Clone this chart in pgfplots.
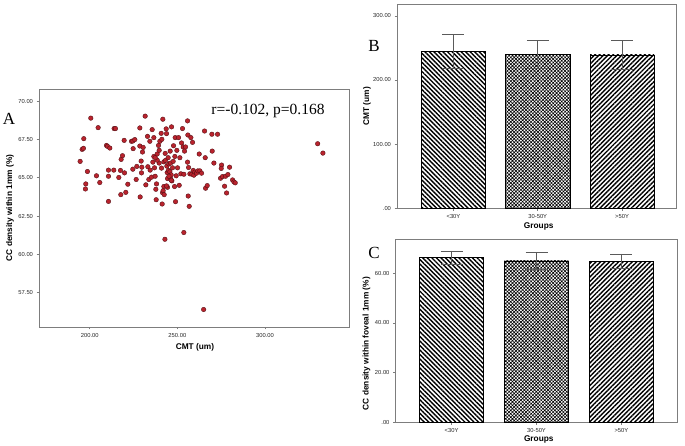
\documentclass[border=0pt]{standalone}
\usepackage{fontspec}
\setmainfont{Liberation Sans}
\newfontfamily\tnr{Liberation Serif}
\usepackage{pgfplots}
\pgfplotsset{compat=1.18}
\usetikzlibrary{patterns.meta}
\definecolor{scatred}{RGB}{185,35,45}
\definecolor{scatedge}{RGB}{80,15,20}
\definecolor{framegray}{RGB}{125,125,125}
\definecolor{errgray}{RGB}{90,90,90}

\pgfplotstableread{
x y
194.48 66.07
196.57 67.55
195.62 66.85
196.38 66.92
198.67 65.41
197.71 64.60
197.52 64.27
200.57 68.89
203.81 65.13
204.76 68.27
205.71 64.69
209.52 67.11
210.10 67.05
211.43 66.94
210.67 65.50
210.67 65.10
210.67 63.46
213.90 68.21
214.67 68.21
213.71 65.50
216.57 65.02
217.52 65.48
217.90 66.20
218.67 66.44
219.62 67.44
219.81 65.32
220.57 64.05
217.71 63.90
221.71 64.58
223.81 67.38
224.57 67.40
225.71 67.49
224.76 66.90
224.57 65.56
226.48 64.89
226.86 65.74
228.57 68.25
228.57 67.07
228.76 63.75
229.52 65.32
230.10 66.68
229.33 66.09
229.71 65.69
230.48 66.98
231.62 69.02
232.95 67.70
232.00 64.54
233.14 65.72
233.71 64.89
234.29 67.38
234.48 65.50
235.24 65.04
235.62 68.14
236.57 67.62
236.57 66.39
236.00 66.02
236.95 65.65
237.33 65.10
237.90 63.57
238.10 64.60
237.71 64.25
238.48 66.55
239.62 65.96
239.62 66.79
240.00 67.38
239.24 67.11
238.48 66.15
237.33 66.31
241.71 68.82
240.76 67.90
241.14 67.51
241.52 64.03
241.33 63.29
240.95 65.63
241.90 64.16
242.48 63.90
242.29 66.04
243.05 66.59
243.24 66.13
243.62 68.19
243.81 67.88
244.00 65.76
244.19 65.34
244.38 64.95
244.38 64.38
244.76 66.31
244.95 65.48
245.14 65.91
245.71 65.39
245.90 66.74
246.10 65.96
246.29 64.91
246.48 65.19
246.67 68.32
246.86 64.80
247.24 65.65
247.62 66.07
247.81 67.09
248.38 64.43
248.57 66.39
248.76 67.62
248.95 63.44
249.33 65.13
249.71 66.79
250.10 65.65
250.67 67.62
251.05 64.51
251.43 66.31
242.29 64.43
243.81 64.47
246.48 64.84
245.20 65.10
252.00 65.26
252.38 67.27
252.95 68.21
253.33 67.01
253.71 65.23
254.10 66.74
254.67 67.01
255.81 68.71
255.81 66.02
256.00 67.79
256.19 63.81
256.38 65.67
256.76 63.14
257.14 65.26
257.71 67.62
258.29 65.23
258.67 67.31
259.05 65.48
259.43 65.17
260.00 65.37
260.95 65.30
261.71 65.45
262.48 66.55
262.86 65.45
263.81 65.30
265.52 68.05
265.90 66.31
266.10 64.32
267.05 64.49
269.90 66.74
269.71 67.84
272.95 67.84
270.86 65.96
274.67 64.97
275.24 65.83
275.05 65.61
275.81 65.08
276.95 64.45
277.52 65.10
278.10 64.01
278.86 65.21
279.81 65.69
281.52 64.86
282.29 64.73
283.05 64.67
330.10 67.22
333.10 66.61
242.90 60.99
253.70 61.43
265.00 56.41
}\scatterdata

\begin{document}
\begin{tikzpicture}
\path[use as bounding box] (0pt,0pt) rectangle (685pt,446pt);
\pgfplotsset{
  spss/.style={
    scale only axis,
    anchor=south west,
    axis line style={framegray, line width=0.8pt},
    tick style={framegray, line width=0.6pt},
    tick align=outside,
    major tick length=2.5pt,
    xtick pos=left, ytick pos=left,
    ticklabel style={font=\fontsize{5.8}{6}\selectfont, text=black!85},
    label style={font=\fontsize{8.3}{9}\selectfont\bfseries},
  },
  barbase/.style={ybar, bar width=0.76, bar shift=0pt, draw=black, line width=0.6pt,
    error bars/y dir=both, error bars/y explicit,
    error bars/error bar style={draw=errgray, line width=0.6pt},
    error bars/error mark options={draw=errgray, line width=0.6pt, mark size=11pt, rotate=90}},
}

% Panel A
\begin{axis}[spss,
  at={(39pt,119pt)}, width=310pt, height=238pt,
  xmin=171, xmax=348, ymin=55.27, ymax=70.79,
  xtick={200,250,300}, xticklabels={200.00,250.00,300.00},
  ytick={57.5,60,62.5,65,67.5,70},
  yticklabels={57.50,60.00,62.50,65.00,67.50,70.00},
  xlabel={CMT (um)}, ylabel={CC density within 1mm (\%)},
  xlabel style={at={(axis description cs:0.503,-0.084)}, anchor=center},
  ylabel style={at={(axis description cs:-0.094,0.5)}, anchor=center},
]
\addplot[only marks, mark=*, mark size=2.3pt,
  mark options={fill=scatred, draw=scatedge, line width=0.35pt}]
  table[x=x, y=y] {\scatterdata};
\end{axis}

% Panel B
\begin{axis}[spss,
  at={(397pt,237.7pt)}, width=279pt, height=204pt,
  xmin=0.33, xmax=3.64, ymin=0, ymax=318,
  xtick={1,2,3}, xticklabels={<30Y,30-50Y,>50Y},
  ytick={0,100,200,300}, yticklabels={.00,100.00,200.00,300.00},
  xlabel={Groups}, ylabel={CMT (um)},
  xlabel style={at={(axis description cs:0.508,-0.09)}, anchor=center},
  ylabel style={at={(axis description cs:-0.108,0.5)}, anchor=center},
]
\addplot[barbase, pattern={Lines[angle=-45,distance=3.2pt,line width=1.4pt]}]
  coordinates {(1,244.5) +- (0,26.5)};
\addplot[barbase, pattern={Hatch[angle=45,distance=2.4pt,line width=0.6pt]}]
  coordinates {(2,240.5) +- (0,21.5)};
\addplot[barbase, pattern={Lines[angle=45,distance=3.2pt,line width=1.4pt]}]
  coordinates {(3,239.0) +- (0,22.3)};
\end{axis}

% Panel C
\begin{axis}[spss,
  at={(395.5pt,23.7pt)}, width=282pt, height=183pt,
  xmin=0.34, xmax=3.66, ymin=0, ymax=73.7,
  xtick={1,2,3}, xticklabels={<30Y,30-50Y,>50Y},
  ytick={0,20,40,60}, yticklabels={.00,20.00,40.00,60.00},
  xlabel={Groups}, ylabel={CC density within foveal 1mm (\%)},
  xlabel style={at={(axis description cs:0.508,-0.093)}, anchor=center},
  ylabel style={at={(axis description cs:-0.103,0.43)}, anchor=center},
]
\addplot[barbase, bar width=0.75, pattern={Lines[angle=-45,distance=3.2pt,line width=1.4pt]}]
  coordinates {(1,66.4) +- (0,2.6)};
\addplot[barbase, bar width=0.75, pattern={Hatch[angle=45,distance=2.4pt,line width=0.6pt]}]
  coordinates {(2,65.0) +- (0,3.3)};
\addplot[barbase, bar width=0.75, pattern={Lines[angle=45,distance=3.2pt,line width=1.4pt]}]
  coordinates {(3,64.9) +- (0,2.9)};
\end{axis}

% Panel letters and annotation
\node[font=\tnr\fontsize{17}{18}\selectfont] at (9pt,327.5pt) {A};
\node[font=\tnr\fontsize{17}{18}\selectfont] at (374pt,400pt) {B};
\node[font=\tnr\fontsize{17}{18}\selectfont] at (374pt,193pt) {C};
\node[font=\tnr\fontsize{15.5}{16}\selectfont] at (268pt,335pt) {r=-0.102, p=0.168};
\end{tikzpicture}
\end{document}
